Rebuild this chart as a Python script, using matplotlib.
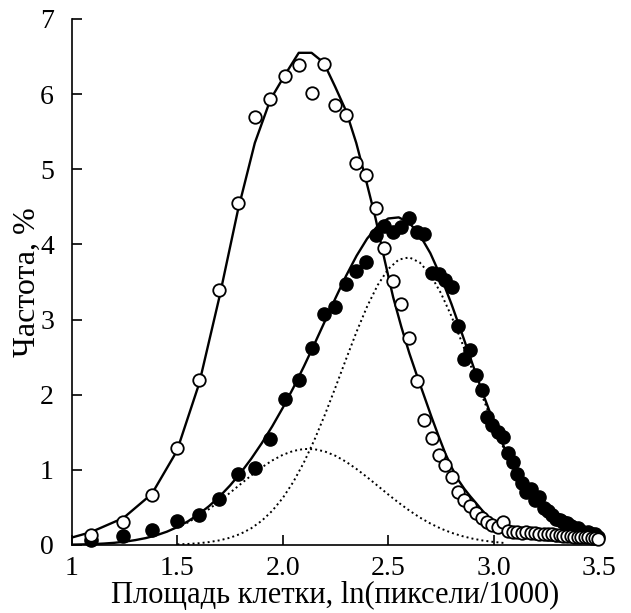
import numpy as np
import matplotlib
matplotlib.use("Agg")
import matplotlib.pyplot as plt

plt.rcParams['font.family'] = ['Liberation Serif', 'DejaVu Serif']

# size bins, ln(pixels/1000)
x_bins = [1.0886, 1.2442, 1.3788, 1.4974, 1.6034, 1.6993, 1.7867, 1.8672, 1.9416, 2.0109,
          2.0757, 2.1365, 2.1939, 2.2481, 2.2996, 2.3485, 2.3952, 2.4398, 2.4824, 2.5233,
          2.5626, 2.6005, 2.6369, 2.6721, 2.7060, 2.7389, 2.7707, 2.8015, 2.8314, 2.8605,
          2.8887, 2.9161, 2.9429, 2.9689, 2.9943, 3.0190, 3.0431, 3.0667, 3.0897, 3.1122,
          3.1342, 3.1557, 3.1768, 3.1974, 3.2177, 3.2375, 3.2570, 3.2760, 3.2947, 3.3131,
          3.3311, 3.3488, 3.3662, 3.3833, 3.4002, 3.4167, 3.4330, 3.4490, 3.4648, 3.4803,
          3.4955]

# open circles
open_obs = [0.13, 0.31, 0.66, 1.29, 2.19, 3.40, 4.55, 5.69, 5.93, 6.24,
            6.39, 6.01, 6.40, 5.86, 5.72, 5.08, 4.93, 4.48, 3.95, 3.51,
            3.21, 2.76, 2.18, 1.66, 1.43, 1.20, 1.07, 0.90, 0.71, 0.60,
            0.52, 0.42, 0.36, 0.31, 0.27, 0.24, 0.30, 0.18, 0.17, 0.17,
            0.16, 0.17, 0.16, 0.16, 0.15, 0.15, 0.14, 0.15, 0.13, 0.13,
            0.12, 0.12, 0.12, 0.11, 0.11, 0.10, 0.10, 0.10, 0.09, 0.09, 0.08]

# filled circles
filled_obs = [0.07, 0.12, 0.20, 0.32, 0.40, 0.61, 0.94, 1.03, 1.41, 1.94,
              2.19, 2.62, 3.07, 3.17, 3.48, 3.65, 3.77, 4.13, 4.25, 4.16,
              4.23, 4.35, 4.16, 4.14, 3.62, 3.60, 3.52, 3.44, 2.92, 2.47,
              2.59, 2.26, 2.06, 1.71, 1.60, 1.51, 1.44, 1.22, 1.11, 0.95,
              0.82, 0.71, 0.75, 0.60, 0.64, 0.49, 0.45, 0.40, 0.35, 0.33,
              0.30, 0.29, 0.25, 0.22, 0.22, 0.18, 0.16, 0.17, 0.15, 0.14, 0.11]

# fit for open circles (x = 1.0 followed by the bins)
open_fit_x0 = 1.0
open_fit = [0.10,
            0.17, 0.36, 0.68, 1.25, 2.15, 3.30, 4.45, 5.35, 5.93, 6.26,
            6.55, 6.55, 6.42, 6.10, 5.78, 5.35, 4.85, 4.35, 3.80, 3.30,
            2.90, 2.55, 2.25, 1.97, 1.70, 1.45, 1.22, 1.03, 0.87, 0.75,
            0.65, 0.56, 0.47, 0.39, 0.32, 0.26, 0.22, 0.18, 0.15, 0.13,
            0.11, 0.10, 0.09, 0.08, 0.07, 0.07, 0.06, 0.06, 0.05, 0.05,
            0.05, 0.04, 0.04, 0.04, 0.04, 0.03, 0.03, 0.03, 0.03, 0.03, 0.03]

# two components of the filled-circle fit
x_comp = [1.00, 1.05, 1.10, 1.15, 1.20, 1.25, 1.30, 1.35, 1.40, 1.45,
          1.50, 1.55, 1.60, 1.65, 1.70, 1.75, 1.80, 1.85, 1.90, 1.95,
          2.00, 2.05, 2.10, 2.15, 2.20, 2.25, 2.30, 2.35, 2.40, 2.45,
          2.50, 2.55, 2.60, 2.65, 2.70, 2.75, 2.80, 2.85, 2.90, 2.95,
          3.00, 3.05, 3.10, 3.15, 3.20, 3.25, 3.30, 3.35, 3.40, 3.45, 3.50]
comp1 = [0.005, 0.008, 0.012, 0.019, 0.029, 0.044, 0.064, 0.091, 0.127, 0.173,
         0.231, 0.301, 0.384, 0.478, 0.583, 0.696, 0.811, 0.925, 1.032, 1.125,
         1.200, 1.252, 1.278, 1.275, 1.244, 1.187, 1.108, 1.011, 0.903, 0.788,
         0.673, 0.562, 0.459, 0.366, 0.286, 0.218, 0.163, 0.119, 0.085, 0.059,
         0.041, 0.027, 0.018, 0.011, 0.007, 0.004, 0.003, 0.002, 0.001, 0.001, 0.000]
comp2 = [0.000, 0.000, 0.000, 0.000, 0.000, 0.000, 0.001, 0.001, 0.002, 0.004,
         0.008, 0.014, 0.023, 0.039, 0.062, 0.097, 0.149, 0.222, 0.322, 0.455,
         0.626, 0.840, 1.098, 1.399, 1.736, 2.099, 2.473, 2.838, 3.174, 3.458,
         3.672, 3.798, 3.828, 3.759, 3.597, 3.352, 3.045, 2.694, 2.323, 1.951,
         1.597, 1.274, 0.990, 0.749, 0.553, 0.397, 0.278, 0.190, 0.126, 0.082, 0.052]

xb = np.array(x_bins)
xc = np.array(x_comp)
c1 = np.array(comp1)
c2 = np.array(comp2)
total = c1 + c2

fig = plt.figure(figsize=(6.31, 6.13), dpi=100)
ax = fig.add_axes([72 / 631, 68 / 613, 527 / 631, 526 / 613])

m1 = (xc >= 1.5) & (xc <= 3.05)
m2 = xc >= 1.5
ax.plot(xc[m1], c1[m1], color='black', linestyle=(0, (1, 1.6)), linewidth=1.4)
ax.plot(xc[m2], c2[m2], color='black', linestyle=(0, (1, 1.6)), linewidth=1.4)
ax.plot(xc, total, color='black', linewidth=1.7)
ax.plot(np.r_[open_fit_x0, xb], open_fit, color='black', linewidth=1.7)

ax.plot(xb, filled_obs, 'o', color='black', markersize=9.5, clip_on=False, zorder=3)
ax.plot(xb, open_obs, 'o', markerfacecolor='white', markeredgecolor='black',
        markeredgewidth=1.3, markersize=9, clip_on=False, zorder=4)

ax.set_xlim(1, 3.5)
ax.set_ylim(0, 7)
ax.set_xticks([1, 1.5, 2.0, 2.5, 3.0, 3.5])
ax.set_xticklabels(['1', '1.5', '2.0', '2.5', '3.0', '3.5'])
ax.set_yticks(range(8))
ax.spines['top'].set_visible(False)
ax.spines['right'].set_visible(False)
for s in ['left', 'bottom']:
    ax.spines[s].set_linewidth(1.2)
ax.tick_params(axis='both', direction='in', length=7, width=1.2, labelsize=20)
ax.tick_params(axis='y', pad=13)
ax.tick_params(axis='x', pad=8)

ax.set_xlabel('Площадь клетки, ln(пиксели/1000)', fontsize=22, labelpad=0)
ax.set_ylabel('Частота, %', fontsize=23, labelpad=-1)

fig.savefig('out.png', dpi=100)
